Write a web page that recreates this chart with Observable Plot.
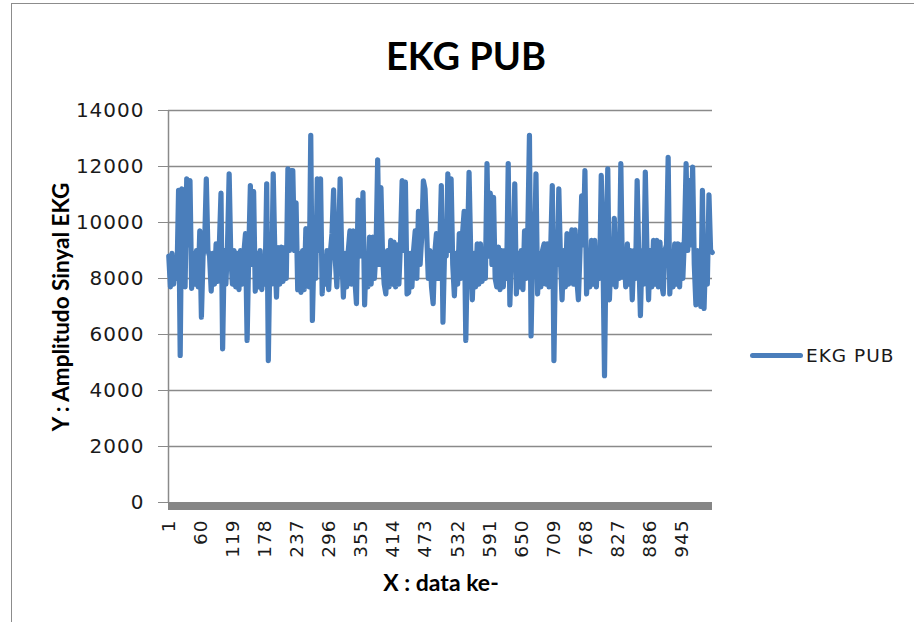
<!DOCTYPE html>
<html><head><meta charset="utf-8">
<script src="https://cdn.jsdelivr.net/npm/d3@7"></script>
<script src="https://cdn.jsdelivr.net/npm/@observablehq/plot@0.6"></script>
<style>
body{margin:0;background:#fff;}
#chart{position:relative;width:914px;height:622px;overflow:hidden;font-family:Lato,"Open Sans",sans-serif;color:#1a1a1a;}
#frame{position:absolute;left:11px;top:3px;width:930px;height:640px;border:1.5px solid #8c8c8c;box-sizing:border-box;}
#title{position:absolute;left:0;top:33px;width:932px;text-align:center;font-weight:bold;font-size:38px;line-height:44px;color:#000;}
#ylab{position:absolute;left:60px;top:307px;transform:translate(-50%,-50%) rotate(-90deg);white-space:nowrap;font-weight:bold;font-size:22.5px;color:#000;}
#xlab{position:absolute;left:441px;top:582px;transform:translate(-50%,-50%);white-space:nowrap;font-weight:bold;font-size:23px;color:#000;}
#legend{position:absolute;left:750px;top:343px;display:flex;align-items:center;font-family:"DejaVu Sans",sans-serif;font-size:18.5px;letter-spacing:1px;color:#1a1a1a;height:24px;}
#legend .sw{width:53px;height:5px;background:#4A7EBB;border-radius:2.5px;margin-right:3px;}
#plot{position:absolute;left:0;top:90px;}
</style>
</head><body>
<div id="chart">
  <div id="frame"></div>
  <div id="title">EKG PUB</div>
  <div id="plot"></div>
  <div id="ylab">Y : Amplitudo Sinyal EKG</div>
  <div id="xlab">X : data ke-</div>
  <div id="legend"><div class="sw"></div><span>EKG PUB</span></div>
</div>
<script>
// Series name
const seriesName = "EKG PUB";
// Sample spacing of the read-off values (every 3rd data index, 1..1000)
const sampleStep = 3;
// EKG amplitude values
const amplitude = [
  8800, 7700, 8900, 7800, 8700, 8000, 11150, 5250, 11200, 8900,
  7700, 11560, 9200, 11500, 7650, 8900, 7800, 9000, 7700, 9700,
  6620, 8800, 9300, 11560, 9000, 8800, 7550, 8900, 7800, 9240,
  7900, 9200, 11050, 5490, 9000, 7800, 9200, 11740, 8800, 7800,
  9000, 7700, 8900, 7600, 9000, 7800, 8900, 9600, 5790, 8900,
  11320, 8500, 11100, 7550, 8900, 7700, 9000, 7600, 8800, 7800,
  11380, 5070, 9000, 7800, 11740, 8900, 7330, 9100, 7800, 9120,
  7900, 9100, 8000, 11920, 9000, 11850, 11850, 9000, 10700, 7600,
  8900, 7500, 9000, 7600, 9780, 8800, 7700, 13110, 6500, 9000,
  8000, 11560, 9000, 11560, 7450, 8800, 7800, 9000, 7600, 8900,
  9600, 11170, 8700, 7700, 9100, 11560, 8800, 7330, 8900, 7700,
  9000, 9700, 7800, 9700, 8000, 7100, 10800, 8800, 9000, 11070,
  7060, 8900, 7700, 9480, 7800, 9480, 8000, 9000, 12240, 8500,
  11250, 8800, 7800, 7450, 9000, 7700, 9360, 7800, 9300, 7700,
  9200, 7800, 9300, 11500, 9000, 11440, 7450, 7500, 8900, 7700,
  9000, 9700, 8000, 10400, 8500, 9500, 11490, 11200, 9700, 8000,
  9000, 7700, 7100, 8900, 9600, 8000, 9000, 11320, 6440, 9000,
  8800, 11740, 9000, 11560, 8500, 7380, 8900, 7800, 9600, 8000,
  9600, 10400, 5790, 9000, 11790, 9000, 7240, 8900, 7700, 9240,
  7800, 9240, 7900, 9000, 8000, 12100, 8800, 11050, 8500, 10900,
  8000, 7700, 9120, 7600, 9000, 7700, 9000, 8000, 12100, 7060,
  9000, 8500, 11380, 7450, 8900, 7700, 9000, 7600, 9700, 8000,
  9700, 13110, 5950, 9000, 8500, 11740, 7450, 8900, 7700, 9000,
  9240, 7800, 9240, 7700, 9000, 11320, 5070, 9000, 8500, 11200,
  8700, 7240, 9000, 7700, 9600, 7800, 9000, 9740, 7800, 9740,
  8000, 7240, 9000, 10950, 9200, 11850, 7450, 8900, 7700, 9360,
  7800, 9360, 7700, 9000, 8000, 11680, 9000, 4530, 9300, 11920,
  7240, 8900, 7800, 10150, 7700, 9000, 8000, 12100, 8050, 9000,
  7700, 9240, 7800, 9000, 7240, 9000, 8000, 11500, 8800, 6670,
  9000, 7800, 11800, 9000, 7240, 9000, 7700, 9360, 7800, 9360,
  7700, 9300, 7800, 7450, 9000, 9200, 12330, 7450, 8900, 7700,
  9240, 7800, 9240, 7700, 9200, 8000, 9500, 12100, 9000, 11500,
  9200, 11980, 8500, 7060, 9000, 7800, 7000, 11150, 6930, 9000,
  7800, 10990, 9000, 8930
];
// Category tick labels on the x axis
const xTickLabels = [1, 60, 119, 178, 237, 296, 355, 414, 473, 532, 591, 650, 709, 768, 827, 886, 945];
// Y axis ticks
const yTicks = [0, 2000, 4000, 6000, 8000, 10000, 12000, 14000];

const series = amplitude.map((v, i) => ({idx: 1 + i * sampleStep, v, name: seriesName}));

const chart = Plot.plot({
  width: 914, height: 532,
  marginLeft: 168, marginRight: 202, marginTop: 20, marginBottom: 120,
  style: {fontFamily: "'DejaVu Sans', sans-serif", fontSize: "20px", letterSpacing: "1px", color: "#1a1a1a", background: "transparent", overflow: "visible"},
  x: {type: "linear", domain: [0.5, 1000.5]},
  y: {domain: [0, 14000]},
  marks: [
    Plot.gridY(yTicks.filter(d => d > 0), {stroke: "#8a8a8a", strokeOpacity: 1, strokeWidth: 1.5}),
    Plot.ruleX([0.5], {stroke: "#8a8a8a", strokeWidth: 1.5}),
    Plot.line(series, {x: "idx", y: "v", stroke: "#4A7EBB", strokeWidth: 5.2, strokeLinejoin: "round", strokeLinecap: "round"}),
    Plot.ruleY([0], {stroke: "#868686", strokeWidth: 8, dy: 3.5}),
    Plot.axisY(yTicks, {tickSize: 10, tickPadding: 14, fontSize: 20, tickFormat: d => String(d), label: null, stroke: "#8a8a8a", fill: "#1a1a1a"}),
    Plot.axisX(xTickLabels, {tickSize: 0, tickPadding: 17, fontSize: 18.5, tickRotate: -90, tickFormat: d => String(d), label: null, fill: "#1a1a1a"})
  ]
});
document.getElementById("plot").appendChild(chart);
</script>
</body></html>
